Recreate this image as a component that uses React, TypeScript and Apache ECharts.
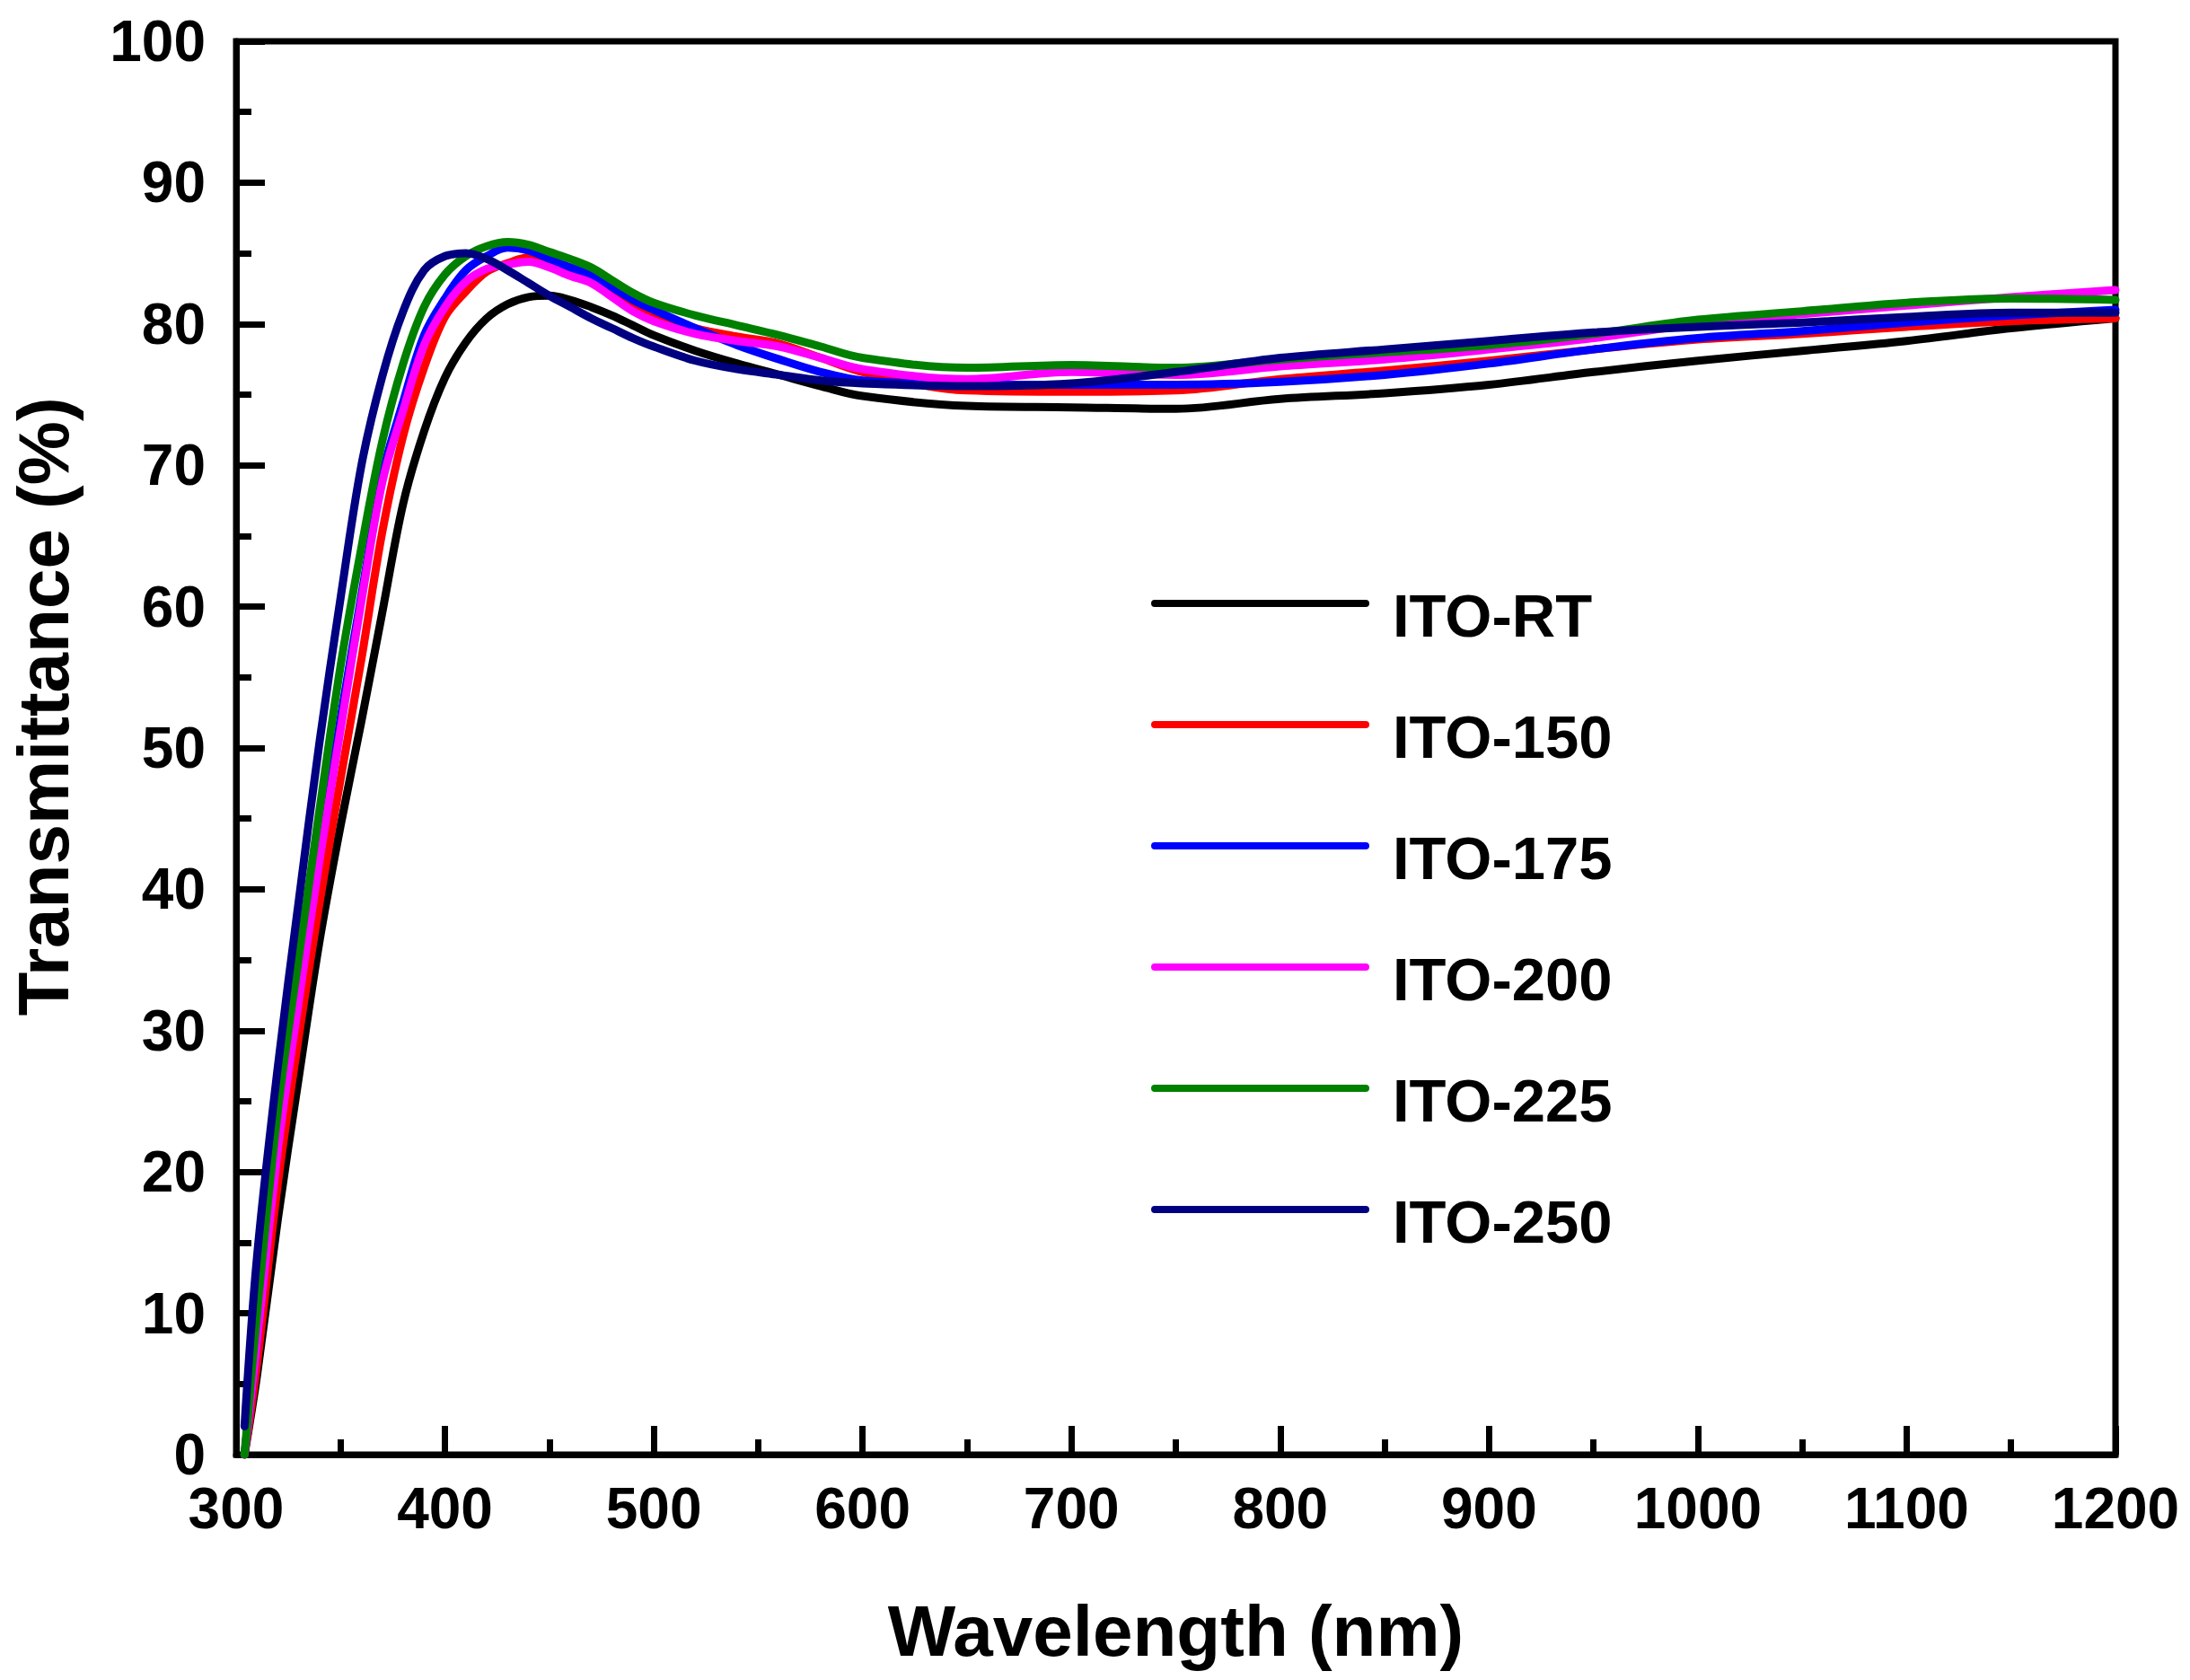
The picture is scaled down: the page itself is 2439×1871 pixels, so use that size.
import { useEffect, useRef } from "react";
import * as echarts from "echarts";

// wavelength grid (nm) shared by all curves
const wavelength = [
  304, 310, 320, 330, 340, 350, 360, 370, 380, 390, 400, 410, 420, 430, 440,
  450, 460, 470, 480, 490, 500, 520, 540, 560, 580, 600, 650, 700, 750, 800,
  850, 900, 950, 1000, 1050, 1100, 1150, 1200,
];

// transmittance (%)
const itoRT = [
  0, 5.6, 16.7, 26.7, 36.4, 44.5, 51.9, 59.6, 67.3, 72.4, 76.2, 78.7, 80.4,
  81.4, 81.9, 82.0, 81.7, 81.2, 80.6, 79.9, 79.2, 78.1, 77.2, 76.4, 75.6, 74.9,
  74.2, 74.1, 74.0, 74.7, 75.1, 75.7, 76.6, 77.4, 78.1, 78.8, 79.7, 80.4,
];
const ito150 = [
  0, 6.4, 19.2, 29.6, 39.1, 47.8, 56.3, 65.3, 72.1, 76.9, 80.5, 82.3, 83.7,
  84.3, 84.7, 84.4, 83.8, 83.2, 82.3, 81.4, 80.7, 79.7, 79.1, 78.6, 77.6, 76.6,
  75.3, 75.2, 75.3, 76.1, 76.7, 77.4, 78.2, 78.9, 79.3, 79.8, 80.2, 80.4,
];
const ito175 = [
  0, 8, 22.1, 32.7, 42.6, 52.1, 60.8, 69.3, 74.5, 79.2, 81.8, 83.8, 84.8, 85.4,
  85.2, 84.6, 84.0, 83.5, 82.6, 81.7, 81.0, 79.7, 78.5, 77.5, 76.6, 76.0, 75.7,
  75.7, 75.7, 75.9, 76.4, 77.2, 78.2, 79.0, 79.5, 80.1, 80.6, 81.0,
];
const ito200 = [
  0, 8, 21.6, 32.1, 42.1, 51.3, 60.4, 68.8, 73.9, 78.5, 81.2, 83.0, 83.9, 84.2,
  84.4, 84.0, 83.4, 82.9, 81.9, 80.9, 80.2, 79.3, 78.8, 78.4, 77.6, 76.8, 76.1,
  76.6, 76.4, 77.0, 77.5, 78.2, 79.0, 80.0, 80.7, 81.3, 81.9, 82.4,
];
const ito225 = [
  0, 10, 24.4, 35.2, 45.7, 55.8, 64.2, 71.7, 77.2, 81.2, 83.5, 84.8, 85.5,
  85.8, 85.6, 85.1, 84.6, 84.0, 83.1, 82.2, 81.5, 80.6, 79.9, 79.2, 78.4, 77.6,
  76.9, 77.1, 76.9, 77.5, 78.0, 78.5, 79.3, 80.3, 80.9, 81.5, 81.8, 81.7,
];
const ito250 = [
  2, 14, 27.5, 39.2, 50.5, 60.6, 70, 76.3, 80.9, 83.8, 84.8, 85.0, 84.6, 83.8,
  82.9, 82.0, 81.2, 80.4, 79.7, 79.0, 78.4, 77.4, 76.8, 76.4, 76.0, 75.8, 75.6,
  75.8, 76.6, 77.6, 78.2, 78.8, 79.4, 79.8, 80.1, 80.5, 80.8, 80.8,
];

const names = ["ITO-RT", "ITO-150", "ITO-175", "ITO-200", "ITO-225", "ITO-250"];
const colors = ["#000000", "#ff0000", "#0000ff", "#ff00ff", "#008000", "#000080"];
const values = [itoRT, ito150, ito175, ito200, ito225, ito250];

const FONT = "'Liberation Sans', Arial, sans-serif";

// legend swatch: a bar at the top of a taller box, so the label sits a bit lower
const LEGEND_ICON = "path://M4,0L239,0Q243,0 243,4Q243,8 239,8L4,8Q0,8 0,4Q0,0 4,0Z M0,34L1,34Z";

function App() {
  const chartRef = useRef(null);

  useEffect(() => {
    document.body.style.margin = "0";
    const chart = echarts.init(chartRef.current, null, { renderer: "svg" });

    const axisCommon = {
      axisLine: { show: true, lineStyle: { color: "#000", width: 7 } },
      axisTick: { show: true, inside: true, length: 32, lineStyle: { color: "#000", width: 7 } },
      minorTick: { show: true, splitNumber: 2, length: 17, lineStyle: { color: "#000", width: 7 } },
      splitLine: { show: false },
      nameTextStyle: {
        fontFamily: FONT,
        fontWeight: "bold",
        fontSize: 80,
        lineHeight: 80,
        color: "#000",
      },
    };

    const labelCommon = {
      fontFamily: FONT,
      fontWeight: "bold",
      fontSize: 64,
      color: "#000",
      showMinLabel: true,
      showMaxLabel: true,
      formatter: (v: number) => String(v),
    };

    const option = {
      animation: false,
      backgroundColor: "#fff",
      grid: {
        left: 262,
        right: 83,
        top: 46,
        bottom: 251,
        show: true,
        borderColor: "#000",
        borderWidth: 7,
      },
      legend: {
        orient: "vertical",
        left: 1282,
        top: 650,
        padding: 0,
        icon: LEGEND_ICON,
        itemWidth: 243,
        itemHeight: 34,
        itemGap: 65,
        textStyle: {
          fontFamily: FONT,
          fontWeight: "bold",
          fontSize: 67,
          lineHeight: 70,
          color: "#000",
          padding: [0, 0, 0, 21],
        },
        data: names,
      },
      xAxis: {
        type: "value",
        min: 300,
        max: 1200,
        interval: 100,
        name: "Wavelength (nm)",
        nameLocation: "middle",
        nameGap: 156,
        ...axisCommon,
        axisLabel: { ...labelCommon, margin: 28, lineHeight: 64 },
      },
      yAxis: {
        type: "value",
        min: 0,
        max: 100,
        interval: 10,
        name: "Transmittance (%)",
        nameLocation: "middle",
        nameGap: 175,
        ...axisCommon,
        nameTextStyle: {
          ...axisCommon.nameTextStyle,
          padding: [0, 0, 0, 92],
        },
        axisLabel: { ...labelCommon, margin: 34 },
      },
      series: names.map((name, i) => ({
        name,
        type: "line",
        smooth: 0.35,
        symbol: "none",
        color: colors[i],
        lineStyle: { color: colors[i], width: 9, cap: "round", join: "round" },
        data: wavelength.map((w, j) => [w, values[i][j]]),
      })),
    };

    chart.setOption(option);

    return () => {
      chart.dispose();
    };
  }, []);

  return <div ref={chartRef} style={{ width: "2439px", height: "1871px" }} />;
}

export default App;
